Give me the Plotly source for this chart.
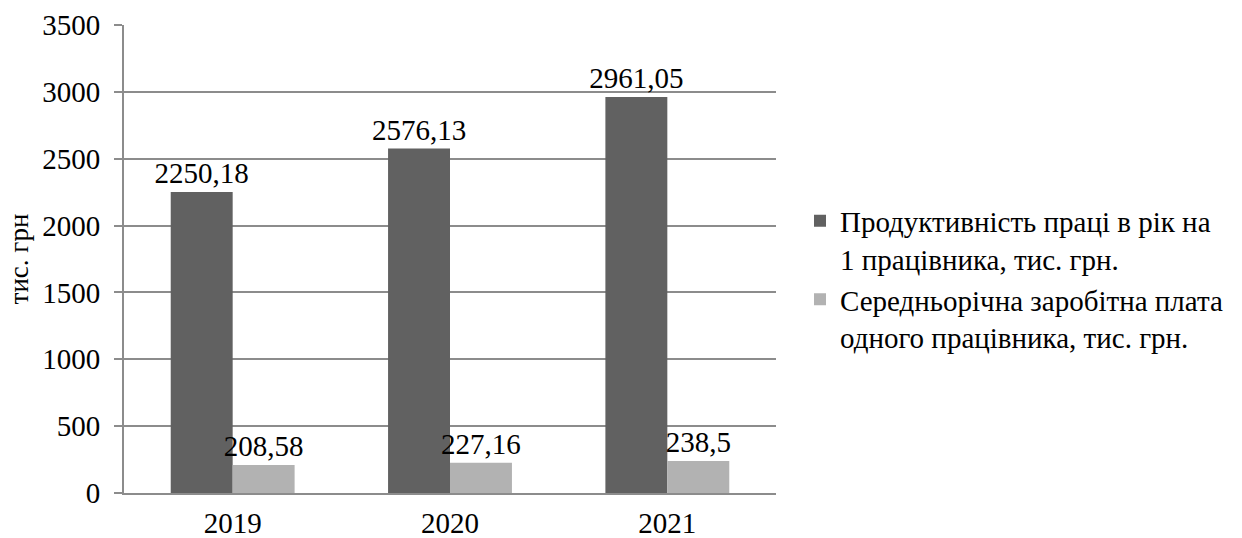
import plotly.graph_objects as go

years = ["2019", "2020", "2021"]
productivity = [2250.18, 2576.13, 2961.05]
salary = [208.58, 227.16, 238.5]
series_names = [
    "Продуктивність праці в рік на<br>1 працівника, тис. грн.",
    "Середньорічна заробітна плата<br>одного працівника, тис. грн.",
]
colors = ["#616161", "#b2b2b2"]

def fmt(v):
    return f"{v}".replace(".", ",")

FONT = "Liberation Serif"
SZ = 29

fig = go.Figure()
for name, vals, col in zip(series_names, [productivity, salary], colors):
    fig.add_trace(go.Bar(
        x=years, y=vals, name=name, marker=dict(color=col, line=dict(width=0)),
        text=[fmt(v) for v in vals], textposition="outside",
        textfont=dict(family=FONT, size=SZ, color="black"),
        outsidetextfont=dict(family=FONT, size=SZ, color="black"),
        constraintext="none", cliponaxis=False,
    ))

fig.update_layout(
    width=1242, height=538,
    margin=dict(l=124, r=466, t=25, b=45),
    paper_bgcolor="white", plot_bgcolor="white",
    barmode="group", bargap=0.43, bargroupgap=0,
    font=dict(family=FONT, size=SZ, color="black"),
    showlegend=True,
    legend=dict(
        xref="container", yref="container",
        x=800 / 1242, y=1 - 279 / 538, xanchor="left", yanchor="middle",
        font=dict(family=FONT, size=SZ, color="black"),
        itemwidth=30, tracegroupgap=0, valign="top",
    ),
)
fig.update_xaxes(
    showline=True, linecolor="#8c8c8c", linewidth=2,
    showgrid=False, ticks="", tickfont=dict(family=FONT, size=SZ),
    ticklabelstandoff=3, automargin=False,
)
fig.update_yaxes(
    range=[0, 3500], dtick=500, showline=True, linecolor="#8c8c8c", linewidth=2,
    showgrid=True, gridcolor="#8c8c8c", gridwidth=2,
    ticks="outside", ticklen=8, tickcolor="#8c8c8c", tickwidth=2,
    tickfont=dict(family=FONT, size=SZ), zeroline=False,
    ticklabelstandoff=8, automargin=False,
    title=dict(text="тис. грн", font=dict(family=FONT, size=27), standoff=6),
)
fig.write_html("out.html")
